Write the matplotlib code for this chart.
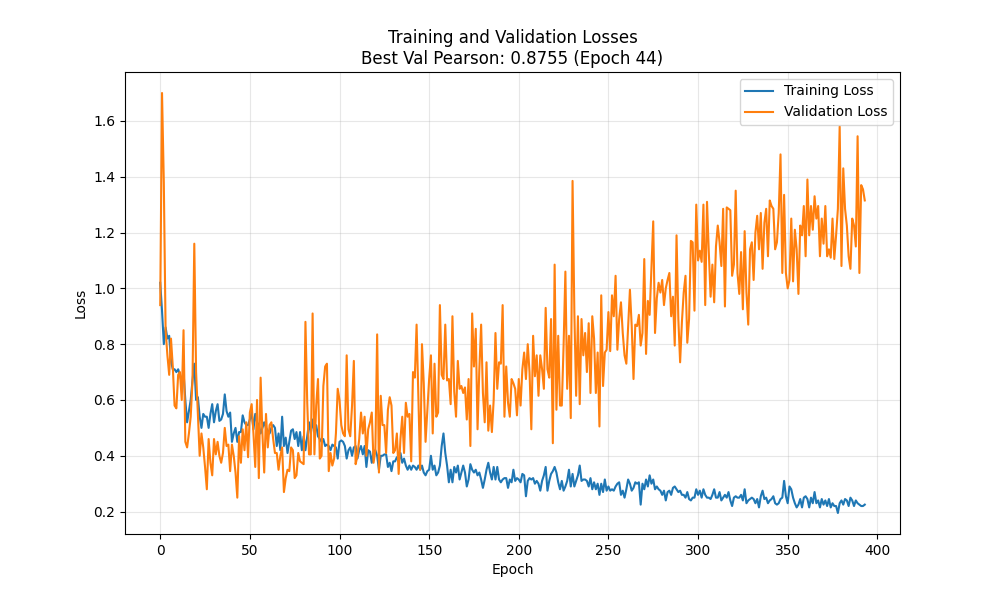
import matplotlib
matplotlib.use("Agg")
import matplotlib.pyplot as plt
import numpy as np

# values, one per epoch (0..393)
train_loss = [
    1.02, 0.92, 0.80, 0.86, 0.82, 0.83, 0.74, 0.71, 0.71, 0.70,
    0.71, 0.69, 0.66, 0.70, 0.60, 0.52, 0.56, 0.60, 0.67, 0.73,
    0.60, 0.61, 0.54, 0.50, 0.55, 0.54, 0.54, 0.50, 0.55, 0.585,
    0.52, 0.56, 0.585, 0.525, 0.53, 0.55, 0.62, 0.56, 0.54, 0.555,
    0.45, 0.48, 0.50, 0.45, 0.485, 0.485, 0.545, 0.52, 0.51, 0.51,
    0.53, 0.555, 0.495, 0.55, 0.52, 0.51, 0.48, 0.50, 0.52, 0.50,
    0.49, 0.48, 0.50, 0.51,
    # 64 - 130
    0.50, 0.435, 0.48, 0.42, 0.54, 0.435, 0.465, 0.41, 0.45, 0.49,
    0.495, 0.46, 0.485, 0.435, 0.485, 0.42, 0.47, 0.42, 0.47, 0.52,
    0.48, 0.53, 0.485, 0.51, 0.47, 0.46, 0.45, 0.46, 0.435, 0.44,
    0.435, 0.42, 0.44, 0.435, 0.43, 0.39, 0.45, 0.455, 0.45, 0.435,
    0.39, 0.42, 0.43, 0.40, 0.43, 0.435, 0.39, 0.42, 0.435, 0.405,
    0.435, 0.36, 0.42, 0.415, 0.375, 0.415, 0.42, 0.40, 0.35, 0.40,
    0.40, 0.405, 0.405, 0.36, 0.375, 0.345, 0.38,
    # 131 - 197
    0.38, 0.395, 0.38, 0.41, 0.375, 0.39, 0.365, 0.35, 0.365, 0.35,
    0.365, 0.36, 0.35, 0.365, 0.35, 0.365, 0.34, 0.33, 0.345, 0.35,
    0.40, 0.35, 0.365, 0.33, 0.34, 0.365, 0.435, 0.48, 0.41, 0.365,
    0.305, 0.35, 0.305, 0.36, 0.34, 0.365, 0.315, 0.34, 0.365, 0.34,
    0.29, 0.315, 0.37, 0.35, 0.34, 0.35, 0.33, 0.34, 0.315, 0.285,
    0.315, 0.35, 0.375, 0.34, 0.315, 0.36, 0.315, 0.36, 0.315, 0.305,
    0.315, 0.32, 0.32, 0.285, 0.315, 0.305, 0.35,
    # 198 - 264
    0.31, 0.32, 0.315, 0.305, 0.335, 0.33, 0.255, 0.31, 0.32, 0.315,
    0.32, 0.30, 0.31, 0.30, 0.275, 0.31, 0.33, 0.36, 0.275, 0.31,
    0.335, 0.345, 0.36, 0.34, 0.305, 0.28, 0.31, 0.275, 0.29, 0.31,
    0.35, 0.29, 0.335, 0.29, 0.31, 0.33, 0.365, 0.31, 0.315, 0.315,
    0.31, 0.29, 0.32, 0.28, 0.305, 0.28, 0.30, 0.26, 0.30, 0.27,
    0.315, 0.275, 0.29, 0.275, 0.28, 0.275, 0.29, 0.30, 0.305, 0.26,
    0.275, 0.25, 0.28, 0.315, 0.30, 0.275, 0.285,
    # 265 - 331
    0.305, 0.30, 0.305, 0.225, 0.30, 0.28, 0.315, 0.29, 0.33, 0.30,
    0.315, 0.28, 0.29, 0.28, 0.275, 0.26, 0.275, 0.24, 0.27, 0.275,
    0.26, 0.285, 0.29, 0.28, 0.27, 0.275, 0.26, 0.26, 0.25, 0.27,
    0.245, 0.24, 0.25, 0.25, 0.28, 0.26, 0.275, 0.25, 0.28, 0.26,
    0.25, 0.25, 0.245, 0.26, 0.28, 0.25, 0.25, 0.27, 0.24, 0.25,
    0.26, 0.25, 0.27, 0.24, 0.22, 0.25, 0.255, 0.25, 0.25, 0.26,
    0.24, 0.28, 0.23, 0.24, 0.245, 0.25, 0.245,
    # 332 - 393
    0.23, 0.245, 0.215, 0.255, 0.275, 0.245, 0.25, 0.23, 0.24, 0.245,
    0.255, 0.23, 0.225, 0.23, 0.245, 0.25, 0.31, 0.255, 0.23, 0.29,
    0.28, 0.25, 0.23, 0.215, 0.225, 0.245, 0.215, 0.25, 0.255, 0.245,
    0.215, 0.25, 0.23, 0.27, 0.23, 0.24, 0.215, 0.245, 0.225, 0.24,
    0.22, 0.245, 0.215, 0.23, 0.22, 0.22, 0.195, 0.23, 0.24, 0.225,
    0.245, 0.24, 0.22, 0.25, 0.24, 0.22, 0.24, 0.23, 0.225, 0.22,
    0.22, 0.225,
]

val_loss = [
    0.94, 1.70, 1.38, 0.85, 0.76, 0.69, 0.82, 0.72, 0.58, 0.57,
    0.69, 0.70, 0.60, 0.85, 0.45, 0.43, 0.48, 0.54, 0.67, 1.16,
    0.70, 0.55, 0.40, 0.48, 0.43, 0.36, 0.28, 0.46, 0.375, 0.33,
    0.46, 0.405, 0.45, 0.40, 0.375, 0.41, 0.50, 0.435, 0.44, 0.345,
    0.44, 0.40, 0.34, 0.25, 0.47, 0.375, 0.495, 0.42, 0.52, 0.395,
    0.555, 0.585, 0.48, 0.36, 0.60, 0.32, 0.68, 0.48, 0.34, 0.55,
    0.43, 0.51, 0.52, 0.46,
    # 64 - 130
    0.41, 0.41, 0.35, 0.40, 0.43, 0.27, 0.32, 0.35, 0.345, 0.43,
    0.42, 0.32, 0.33, 0.41, 0.38, 0.375, 0.37, 0.88, 0.59, 0.405,
    0.405, 0.91, 0.405, 0.58, 0.675, 0.39, 0.40, 0.65, 0.72, 0.73,
    0.345, 0.41, 0.365, 0.39, 0.48, 0.64, 0.60, 0.51, 0.48, 0.47,
    0.76, 0.495, 0.47, 0.58, 0.74, 0.37, 0.40, 0.46, 0.555, 0.48,
    0.54, 0.40, 0.495, 0.52, 0.555, 0.375, 0.42, 0.835, 0.34, 0.615,
    0.51, 0.51, 0.41, 0.565, 0.61, 0.58, 0.41,
    # 131 - 197
    0.42, 0.48, 0.335, 0.46, 0.54, 0.41, 0.59, 0.54, 0.55, 0.38,
    0.70, 0.68, 0.87, 0.615, 0.35, 0.80, 0.66, 0.45, 0.565, 0.675,
    0.76, 0.48, 0.73, 0.54, 0.555, 0.94, 0.69, 0.675, 0.87, 0.67,
    0.675, 0.585, 0.90, 0.63, 0.54, 0.74, 0.64, 0.65, 0.625, 0.645,
    0.53, 0.675, 0.435, 0.91, 0.72, 0.855, 0.495, 0.71, 0.87, 0.625,
    0.52, 0.735, 0.49, 0.58, 0.485, 0.60, 0.84, 0.64, 0.735, 0.73,
    0.94, 0.54, 0.72, 0.59, 0.54, 0.675, 0.66,
    # 198 - 264
    0.64, 0.545, 0.675, 0.58, 0.71, 0.77, 0.675, 0.80, 0.70, 0.495,
    0.83, 0.685, 0.76, 0.615, 0.76, 0.71, 0.64, 0.93, 0.71, 0.68,
    0.89, 0.445, 1.085, 0.565, 0.83, 0.58, 0.58, 0.795, 1.06, 0.64,
    0.83, 0.535, 1.385, 0.915, 0.615, 0.90, 0.585, 0.89, 0.76, 0.84,
    0.70, 0.875, 0.625, 0.90, 0.82, 0.625, 0.77, 0.505, 0.975, 0.65,
    0.77, 0.78, 0.915, 0.775, 0.975, 0.90, 1.045, 0.78, 0.89, 0.95,
    0.84, 0.76, 0.73, 0.865, 0.995, 0.865, 0.675,
    # 265 - 331
    0.87, 0.865, 0.905, 0.795, 0.84, 1.105, 0.765, 0.955, 0.905, 1.07,
    1.24, 0.84, 0.965, 1.02, 0.985, 1.03, 0.94, 1.00, 1.03, 1.055,
    0.90, 0.97, 0.795, 1.19, 0.89, 0.735, 0.88, 0.985, 1.045, 0.805,
    0.89, 1.17, 1.165, 0.92, 1.30, 1.10, 1.135, 1.095, 1.30, 0.94,
    1.31, 1.13, 0.97, 1.085, 0.95, 1.15, 1.225, 1.165, 1.08, 1.285,
    0.935, 1.29, 1.285, 1.28, 1.045, 1.085, 1.35, 1.055, 0.98, 1.13,
    0.925, 1.205, 0.985, 0.87, 1.14, 1.165, 1.03,
    # 332 - 393
    1.20, 1.26, 1.14, 1.27, 1.07, 1.235, 1.285, 1.115, 1.315, 1.295,
    1.285, 1.14, 1.165, 1.27, 1.48, 1.055, 1.335, 1.055, 1.00, 1.03,
    1.25, 1.025, 1.21, 1.14, 0.98, 1.225, 1.19, 1.295, 1.115, 1.39,
    1.19, 1.295, 1.21, 1.33, 1.25, 1.295, 1.115, 1.25, 1.16, 1.295,
    1.115, 1.14, 1.11, 1.25, 1.105, 1.19, 1.285, 1.58, 1.08, 1.43,
    1.285, 1.225, 1.115, 1.07, 1.25, 1.225, 1.15, 1.545, 1.055, 1.37,
    1.355, 1.315,
]

best_pearson = 0.8755
best_epoch = 44

epochs_train = np.arange(len(train_loss))
epochs_val = np.arange(len(val_loss))

fig, ax = plt.subplots(figsize=(10, 6), dpi=100)
ax.plot(epochs_train, train_loss, label="Training Loss")
ax.plot(epochs_val, val_loss, label="Validation Loss")
ax.set_xlabel("Epoch")
ax.set_ylabel("Loss")
ax.set_title(f"Training and Validation Losses\nBest Val Pearson: {best_pearson:.4f} (Epoch {best_epoch})")
ax.legend(loc="upper right")
ax.grid(True, alpha=0.3)

plt.savefig("out.png", dpi=100)
